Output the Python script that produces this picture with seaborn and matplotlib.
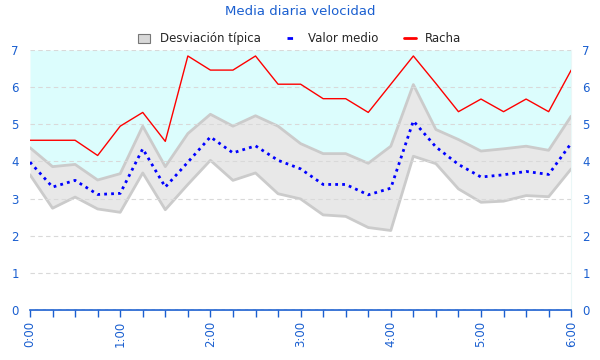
import pandas as pd
import matplotlib
matplotlib.use("Agg")
import matplotlib.pyplot as plt
import seaborn as sns
from matplotlib.patches import Patch
from matplotlib.lines import Line2D

# Data (every 15 minutes, 0:00 to 6:00)
horas = ["0:00", "0:15", "0:30", "0:45", "1:00", "1:15", "1:30", "1:45",
         "2:00", "2:15", "2:30", "2:45", "3:00", "3:15", "3:30", "3:45",
         "4:00", "4:15", "4:30", "4:45", "5:00", "5:15", "5:30", "5:45", "6:00"]
minutos = [0, 15, 30, 45, 60, 75, 90, 105, 120, 135, 150, 165, 180, 195,
           210, 225, 240, 255, 270, 285, 300, 315, 330, 345, 360]
valor_medio = [3.98, 3.31, 3.49, 3.11, 3.14, 4.34, 3.31, 3.98, 4.66, 4.23,
               4.42, 4.03, 3.80, 3.38, 3.38, 3.10, 3.28, 5.09, 4.39, 3.92,
               3.58, 3.64, 3.73, 3.65, 4.49]
desv_sup = [4.37, 3.86, 3.92, 3.50, 3.67, 4.95, 3.86, 4.75, 5.27, 4.95,
            5.23, 4.95, 4.48, 4.21, 4.21, 3.95, 4.41, 6.07, 4.86, 4.59,
            4.28, 4.34, 4.41, 4.30, 5.22]
desv_inf = [3.64, 2.74, 3.04, 2.72, 2.63, 3.69, 2.70, 3.38, 4.03, 3.49,
            3.69, 3.13, 2.99, 2.56, 2.52, 2.22, 2.14, 4.14, 3.94, 3.26,
            2.90, 2.93, 3.08, 3.05, 3.80]
racha = [4.57, 4.57, 4.57, 4.16, 4.95, 5.32, 4.54, 6.84, 6.46, 6.46,
         6.84, 6.08, 6.08, 5.69, 5.69, 5.32, 6.08, 6.84, 6.10, 5.34,
         5.68, 5.34, 5.68, 5.34, 6.46]
hora_ticks = [0, 60, 120, 180, 240, 300, 360]
hora_labels = ["0:00", "1:00", "2:00", "3:00", "4:00", "5:00", "6:00"]

df = pd.DataFrame({"min": minutos, "medio": valor_medio, "sup": desv_sup,
                   "inf": desv_inf, "racha": racha})

sns.set_style("white", {"xtick.bottom": True})
azul = "#1a5fd0"

fig = plt.figure(figsize=(6, 3.6), dpi=100)
ax = fig.add_axes([0.05, 0.139, 0.902, 0.722])

# light cyan area above the band
ax.fill_between(df["min"], df["sup"], 7, color="#dcfdfd", lw=0, zorder=0)
# deviation band
ax.fill_between(df["min"], df["inf"], df["sup"], color="#e8e8e8", lw=0, zorder=1)
ax.plot(df["min"], df["sup"], color="#cbcbcb", lw=2, zorder=2)
ax.plot(df["min"], df["inf"], color="#cbcbcb", lw=2, zorder=2)

sns.lineplot(data=df, x="min", y="racha", color="red", lw=1, ax=ax, zorder=4)
sns.lineplot(data=df, x="min", y="medio", color="blue", lw=2, ax=ax, zorder=3,
             linestyle=(0, (1, 1.5)))

ax.set_xlim(0, 360)
ax.set_ylim(0, 7)
ax.set_xlabel("")
ax.set_ylabel("")

ax.set_xticks(hora_ticks)
ax.set_xticklabels(hora_labels, rotation=90, color=azul, fontsize=8.5)
ax.set_xticks(range(0, 361, 15), minor=True)
ax.xaxis.set_tick_params(which="both", direction="out", length=5,
                         color=azul, width=1, bottom=True, pad=3)
ax.set_yticks(range(0, 8))
ax.tick_params(axis="y", labelcolor=azul, labelsize=8.5, length=0,
               left=False, right=False, labelleft=True, labelright=True, pad=8)

ax.grid(axis="y", color="#d9d9d9", linestyle=(0, (4, 3)), lw=0.8)
ax.set_axisbelow(False)

for s in ["left", "top"]:
    ax.spines[s].set_visible(False)
ax.spines["right"].set_color("#eaf7f7")
ax.spines["bottom"].set_color(azul)
ax.spines["bottom"].set_linewidth(1.2)

fig.suptitle("Media diaria velocidad", color=azul, fontsize=9.5, y=0.985)

handles = [
    Patch(facecolor="#d8d8d8", edgecolor="#777777", lw=0.8),
    Line2D([0], [0], color="blue", lw=2, linestyle=(0, (2, 2.5))),
    Line2D([0], [0], color="red", lw=2),
]
fig.legend(handles, ["Desviación típica", "Valor medio", "Racha"],
           loc="upper center", bbox_to_anchor=(0.5, 0.94), ncol=3,
           frameon=False, fontsize=8.5, handlelength=1.0, handleheight=0.8,
           columnspacing=2.2, handletextpad=0.8)

fig.savefig("out.png", dpi=100)
